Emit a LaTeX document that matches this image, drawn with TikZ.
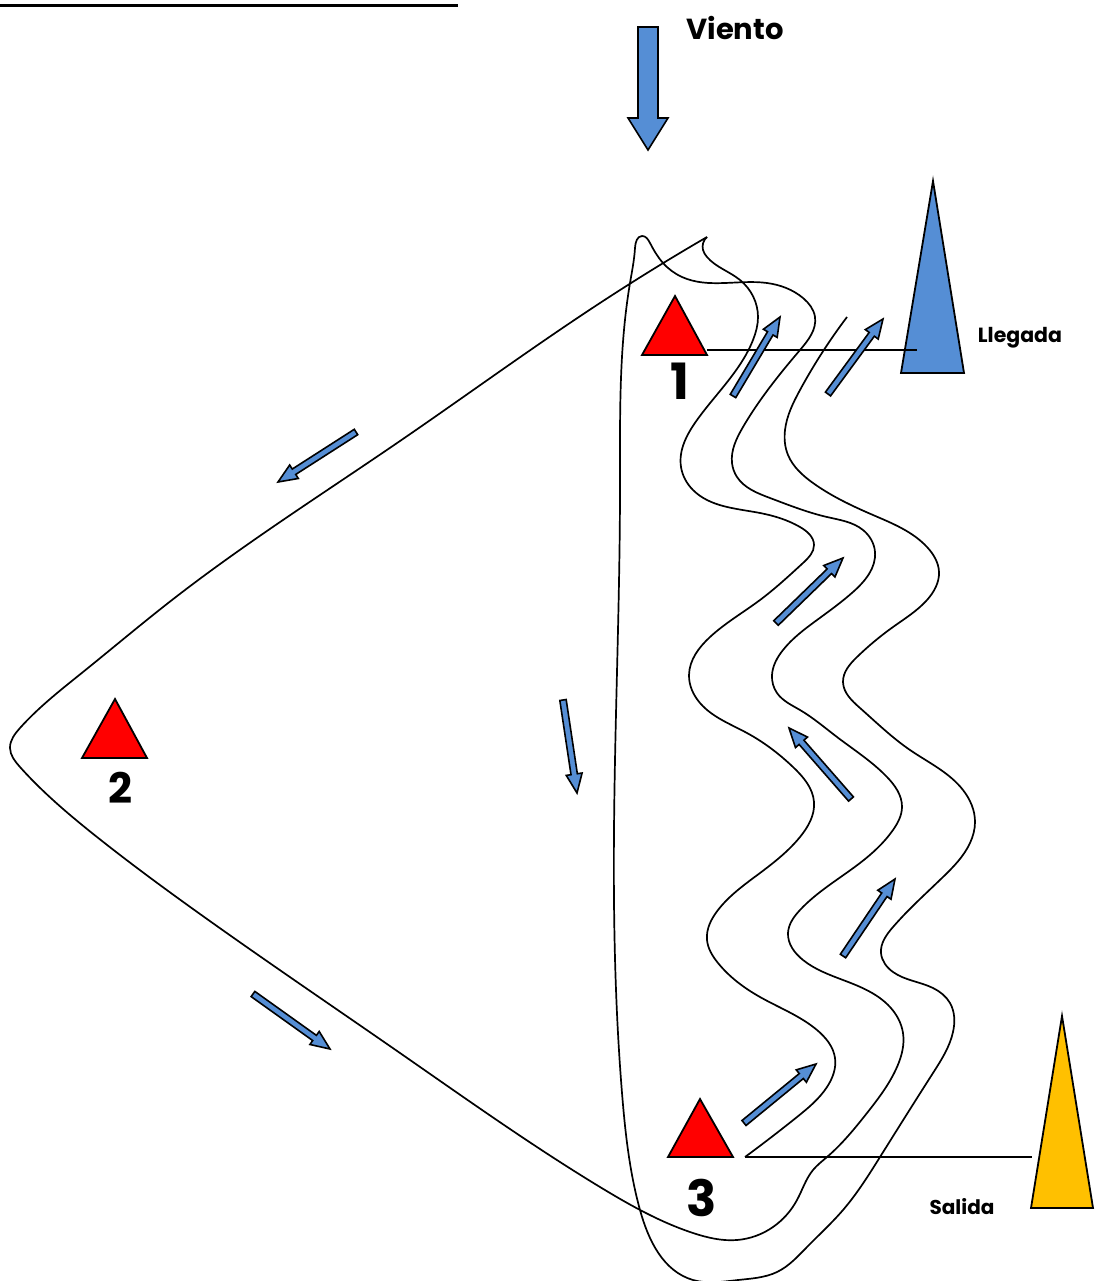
\documentclass[tikz,border=0pt]{standalone}
\usepackage{fontspec}
\setmainfont{Poppins}
\usetikzlibrary{calc,hobby}
\definecolor{blockblue}{RGB}{85,142,213}
\definecolor{conered}{RGB}{255,0,0}
\definecolor{coneyellow}{RGB}{255,192,0}
\tikzset{
  course/.style={draw=black,line width=1.7pt,line join=round,use Hobby shortcut},
  plainline/.style={draw=black,line width=1.7pt},
  cone/.style={draw=black,line width=1.8pt,line join=miter},
  blockarrow/.style={draw=black,fill=blockblue,line width=1.6pt,line join=miter},
  lab/.style={inner sep=0pt,font=\bfseries},
}
% tail, tip, half width, head length, head half width
\newcommand{\blockarr}[5]{%
  \coordinate (t) at (#1);\coordinate (h) at (#2);
  \coordinate (n) at ($(h)!#4pt!(t)$);
  \draw[blockarrow]
    ($(t)!#3pt!-90:(h)$) --
    ($(n)!#3pt!-90:(h)$) --
    ($(n)!#5pt!-90:(h)$) --
    (h) --
    ($(n)!#5pt!90:(h)$) --
    ($(n)!#3pt!90:(h)$) --
    ($(t)!#3pt!90:(h)$) -- cycle;}
\begin{document}
\begin{tikzpicture}[x=1pt,y=-1pt]
\useasboundingbox (0,0) rectangle (1094,1281);
% title underline
\fill[black] (0,4) rectangle (458,7);
% course
\draw[course] (745,1157) .. (797,1117) .. (827,1087) .. (835,1058) .. (817,1030) .. (760,997) .. (718,963) .. (707,940) .. (718,910) .. (760,873) .. (800,837) .. (814,802) .. (793,767) .. (747,733) .. (700,703) .. (689,675) .. (710,637) .. (760,600) .. (803,563) .. (814,545) .. (800,527) .. (760,513) .. (693,490) .. (681,467) .. (697,420) .. (753,340) .. (758,317) .. (740,280) .. (707,257) .. (703,250) .. (707,237);
\draw[course] (707,237) .. (600,303) .. (400,441) .. (172,600) .. (83,672) .. (20,728) .. (10,748) .. (20,767) .. (97,837) .. (200,914) .. (400,1053) .. (600,1187) .. (693,1233) .. (737,1240) .. (773,1227) .. (797,1200) .. (813,1170) .. (827,1157) .. (867,1113) .. (897,1067) .. (903,1033) .. (890,1007) .. (843,980) .. (803,960) .. (788,933) .. (800,910) .. (860,863) .. (893,830) .. (902,807) .. (887,777) .. (837,737) .. (800,710) .. (777,693) .. (772,675) .. (783,650) .. (817,620) .. (853,592) .. (875,552) .. (863,530) .. (827,517) .. (770,498) .. (737,477) .. (732,463) .. (743,427) .. (800,350) .. (815,317) .. (803,298) .. (767,283) .. (682,277) .. (663,263) .. (650,243) .. (642,236) .. (635,248) .. (630,283) .. (620,490) .. (614,830) .. (622,1093) .. (640,1210) .. (693,1280) .. (738,1280) .. (777,1272) .. (807,1247) .. (843,1210) .. (880,1157) .. (933,1073) .. (953,1032) .. (950,1003) .. (933,988) .. (893,972) .. (881,953) .. (893,927) .. (943,877) .. (970,843) .. (975,822) .. (963,790) .. (910,750) .. (860,708) .. (843,682) .. (857,657) .. (893,627) .. (927,600) .. (939,572) .. (927,547) .. (873,515) .. (813,483) .. (788,455) .. (785,430) .. (800,390) .. (847,317);
% connecting lines
\draw[plainline] (745,1157) -- (1032,1157);
% cones
\draw[cone,fill=blockblue] (933,181) -- (964,373) -- (901,373) -- cycle;
\draw[cone,fill=coneyellow] (1062,1016) -- (1093,1208) -- (1031,1208) -- cycle;
\draw[plainline] (707,350) -- (917,350);
\draw[cone,fill=conered] (675,296) -- (707,355) -- (642,355) -- cycle;
\draw[cone,fill=conered] (115,699) -- (147,758) -- (82,758) -- cycle;
\draw[cone,fill=conered] (700,1099) -- (733,1157) -- (668,1157) -- cycle;
% arrows
\blockarr{648,27}{648,150}{10}{32}{20}
\blockarr{733,396}{780,317}{3.2}{19}{8}
\blockarr{828,394}{883,319}{3.2}{19}{8}
\blockarr{776,623}{843,558}{3.2}{19}{8}
\blockarr{851,799}{789,728}{3.2}{19}{8}
\blockarr{843,956}{895,879}{3.2}{19}{8}
\blockarr{744,1123}{816,1064}{3.2}{19}{8}
\blockarr{356,432}{278,482}{3.2}{19}{8}
\blockarr{563,700}{577,793}{3.2}{19}{8}
\blockarr{253,994}{330,1049}{3.2}{19}{8}
% labels
\node[lab,font=\bfseries\fontsize{29}{32}\selectfont] (viento) at (735,28) {Viento};
\node[lab,font=\bfseries\fontsize{50}{54}\selectfont] (n1) at (680,381) {1};
\node[lab,font=\bfseries\fontsize{42}{46}\selectfont] (n2) at (120,788) {2};
\node[lab,font=\bfseries\fontsize{50}{54}\selectfont] (n3) at (702,1198) {3};
\node[lab,font=\bfseries\fontsize{20.5}{22}\selectfont] (llegada) at (1020,338) {Llegada};
\node[lab,font=\bfseries\fontsize{20}{22}\selectfont] (salida) at (962,1207) {Salida};
\end{tikzpicture}
\end{document}
